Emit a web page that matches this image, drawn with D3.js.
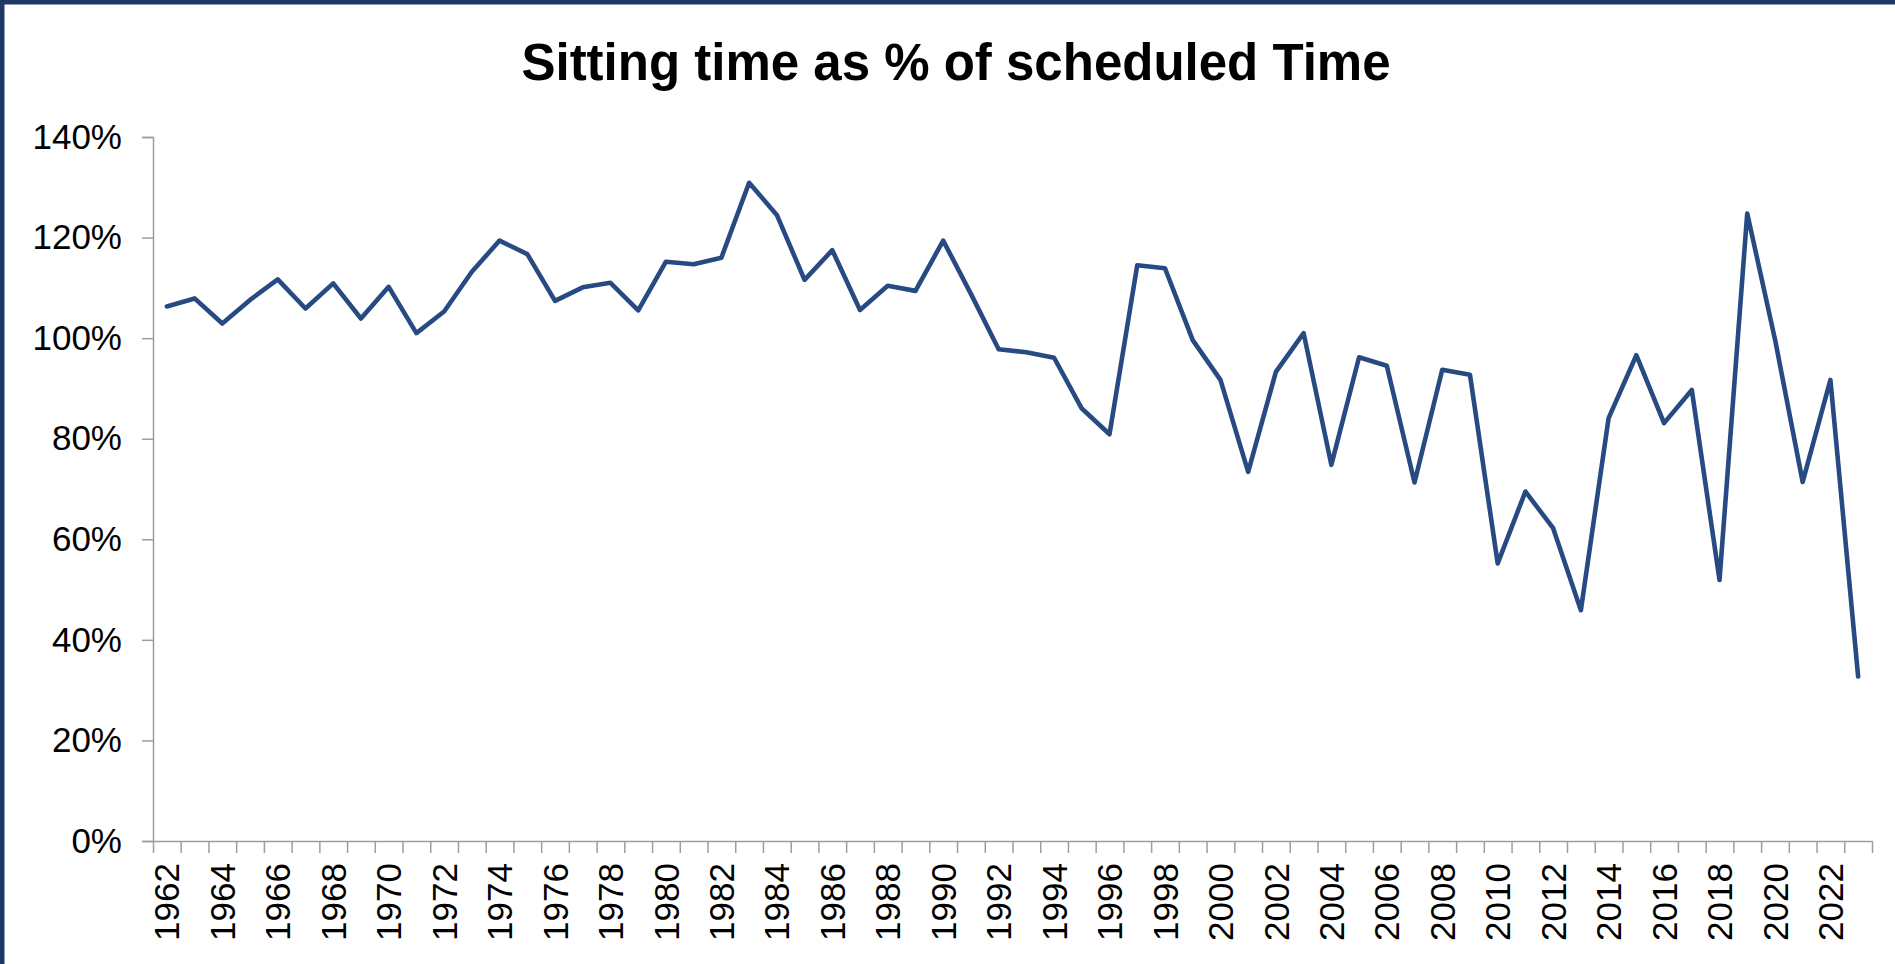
<!DOCTYPE html>
<html>
<head>
<meta charset="utf-8">
<script src="https://cdn.jsdelivr.net/npm/d3@7"></script>
<style>
	body { margin: 0; background: #fff; }
	svg { display: block; font-family: "Liberation Sans", Arial, sans-serif; }
</style>
</head>
<body>
<div class="chart"></div>
<script>

var years = ["1962", "1963", "1964", "1965", "1966", "1967", "1968", "1969", "1970", "1971",
	"1972", "1973", "1974", "1975", "1976", "1977", "1978", "1979", "1980", "1981",
	"1982", "1983", "1984", "1985", "1986", "1987", "1988", "1989", "1990", "1991",
	"1992", "1993", "1994", "1995", "1996", "1997", "1998", "1999", "2000", "2001",
	"2002", "2003", "2004", "2005", "2006", "2007", "2008", "2009", "2010", "2011",
	"2012", "2013", "2014", "2015", "2016", "2017", "2018", "2019", "2020", "2021",
	"2022", "2023"];

// sitting time as % of scheduled time
var sitting = [106.3, 107.9, 102.9, 107.6, 111.7, 105.9, 110.9, 103.9, 110.2, 101.0,
	105.3, 113.2, 119.4, 116.7, 107.4, 110.1, 111.0, 105.5, 115.2, 114.7,
	116.0, 130.9, 124.5, 111.6, 117.5, 105.6, 110.4, 109.4, 119.4, 108.8,
	97.8, 97.2, 96.1, 86.0, 80.9, 114.5, 113.9, 99.6, 91.7, 73.4,
	93.3, 101.0, 74.8, 96.2, 94.5, 71.3, 93.7, 92.7, 55.2, 69.5,
	62.2, 45.9, 84.1, 96.6, 83.1, 89.7, 51.9, 124.8, 99.8, 71.4,
	91.7, 32.7];

var yTicks = [0, 20, 40, 60, 80, 100, 120, 140];

var width = 1895;
var height = 964;
var margin = {top: 137, bottom: 123, left: 153, right: 23};

var canvas = d3.select(".chart")
	.append("svg")
	.attr("width", width)
	.attr("height", height);

// frame
canvas.append("rect").attr("x", 0).attr("y", 0).attr("width", width).attr("height", 4.5).attr("fill", "#1f3864");
canvas.append("rect").attr("x", 0).attr("y", 0).attr("width", 4.5).attr("height", height).attr("fill", "#1f3864");

canvas.append("text")
	.text("Sitting time as % of scheduled Time")
	.attr("x", 956)
	.attr("y", 80)
	.attr("text-anchor", "middle")
	.style("font-size", "51px")
	.style("font-weight", "bold")
	.attr("fill", "#000");

var xScale = d3.scaleBand()
	.domain(years)
	.range([margin.left, width - margin.right])
	.padding(0);

var yScale = d3.scaleLinear()
	.domain([0, 140])
	.range([height - margin.bottom, margin.top]);

// y axis
var yAxis = d3.axisLeft(yScale)
	.tickValues(yTicks)
	.tickSize(11)
	.tickPadding(20)
	.tickFormat(function(d) { return d + "%"; });

var gy = canvas.append("g")
	.attr("transform", "translate(" + margin.left + ",0)")
	.call(yAxis);
gy.selectAll("path, line").attr("stroke", "#9d9d9d").attr("stroke-width", 1.5);
gy.selectAll("text").style("font-size", "35px").attr("fill", "#000").attr("font-family", null);

// x axis: ticks between categories
var edgeScale = d3.scaleLinear()
	.domain([0, years.length])
	.range([margin.left, width - margin.right]);

var gx = canvas.append("g")
	.attr("transform", "translate(0," + (height - margin.bottom) + ")")
	.call(d3.axisBottom(edgeScale).tickValues(d3.range(years.length + 1)).tickSize(12).tickSizeOuter(0).tickFormat(""));
gx.selectAll("path, line").attr("stroke", "#9d9d9d").attr("stroke-width", 1.5);

var labels = canvas.append("g")
	.attr("transform", "translate(0," + (height - margin.bottom) + ")")
	.call(d3.axisBottom(xScale).tickValues(years.filter(function(d, i) { return i % 2 == 0; })).tickSize(0).tickPadding(0));
labels.select(".domain").remove();
labels.selectAll("text")
	.attr("font-family", null)
	.style("font-size", "35px")
	.attr("fill", "#000")
	.attr("text-anchor", "end")
	.attr("transform", "translate(0,22) rotate(-90)")
	.attr("x", 0)
	.attr("y", 0)
	.attr("dy", "0.36em");

// the line
var line = d3.line()
	.x(function(d, i) { return xScale(years[i]) + xScale.bandwidth() / 2; })
	.y(function(d) { return yScale(d); });

canvas.append("path")
	.datum(sitting)
	.attr("d", line)
	.attr("fill", "none")
	.attr("stroke", "#284a83")
	.attr("stroke-width", 4.6)
	.attr("stroke-linejoin", "round")
	.attr("stroke-linecap", "round");

</script>
</body>
</html>
